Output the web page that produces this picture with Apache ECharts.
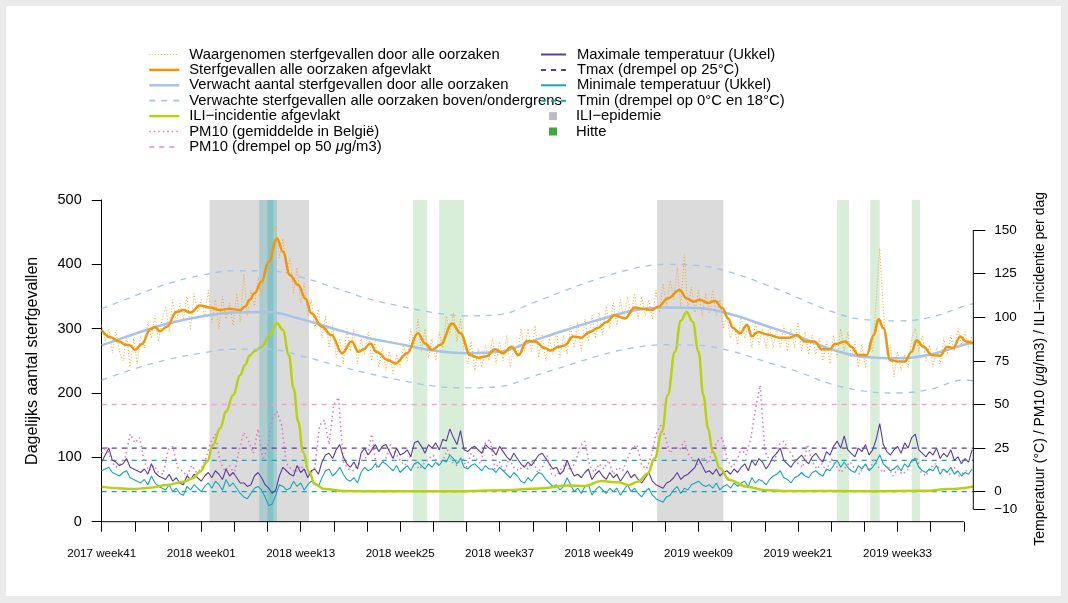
<!DOCTYPE html>
<html><head><meta charset="utf-8">
<script src="https://cdn.jsdelivr.net/npm/echarts@6/dist/echarts.min.js"></script>
<style>html,body{margin:0;padding:0;background:#ebebeb}#c{width:1068px;height:603px}</style>
</head><body><div id="c"></div>
<script>
// ---------------- DATA ----------------
const tickLabels = ['2017 week41','2018 week01','2018 week13','2018 week25','2018 week37','2018 week49','2019 week09','2019 week21','2019 week33'];
const dayMax = 736;            // days shown since 2017 week41 (Monday 9 Oct 2017)
const labelEvery = 84;         // 12 weeks between labels
const tickEvery = 28;          // 4 weeks between ticks

// observed daily deaths, one value every 3 days
const obsStep = 3;
const observed = [
305,280,300,262,295,265,250,290,240,285,
245,290,270,310,285,320,280,315,335,295,
345,310,340,315,350,300,355,325,345,320,
360,310,345,300,350,315,340,305,355,310,
385,320,360,335,380,350,400,385,445,460,
410,440,385,410,355,395,340,370,320,345,
300,330,285,320,270,305,255,285,245,300,
265,300,245,285,260,295,250,280,240,270,
235,265,230,260,240,275,250,300,270,315,
265,300,255,285,250,295,270,320,290,325,
280,315,265,245,280,235,270,240,275,250,
285,245,280,250,290,240,275,255,300,265,
300,265,305,255,290,250,285,260,295,255,
290,260,305,270,310,265,315,280,320,285,
325,290,335,300,340,305,345,315,350,320,
355,315,350,320,345,315,360,325,370,335,
375,345,395,335,415,330,365,325,360,320,
355,325,360,320,345,300,320,285,305,275,
320,285,305,270,310,275,300,270,305,270,
300,270,305,265,300,270,310,265,295,260,
290,260,285,250,280,245,290,255,300,265,
295,255,280,240,275,240,280,265,345,425,
330,260,275,225,265,235,260,240,285,300,
265,290,250,275,240,270,245,285,260,290,
265,300,275,295,270,290];

// smoothed deaths
const smoothDays = [0,7,15,20,24,28,34,41,45,49,55,63,69,75,83,91,100,108,117,121,125,129,135,141,148,153,159,166,172,177,186,194,203,211,217,221,227,232,242,248,258,267,273,279,286,296,303,311,318,325,332,339,346,352,359,366,374,379,386,391,398,405,412,419,426,433,442,450,457,464,470,478,488,494,500,505,512,518,524,529,533,539,545,549,554,562,573,581,587,594,602,608,615,619,628,633,639,646,652,656,660,666,673,678,684,688,694,701,708,714,719,725,730,736];
const smoothVals = [298,287,280,275,274,267,276,299,303,296,303,326,329,325,336,333,329,331,329,334,345,355,373,404,440,420,383,368,347,324,303,290,262,280,264,268,277,264,251,246,262,293,277,267,275,308,293,259,255,257,268,262,272,259,281,280,270,266,272,274,288,286,295,301,310,321,316,333,331,329,334,347,360,347,342,345,340,343,332,316,301,293,306,288,295,291,286,286,290,280,280,268,268,276,280,272,259,259,290,315,301,251,249,249,264,282,272,259,258,272,270,288,280,277];

// expected deaths and bounds
const expDays  = [0,28,56,84,112,140,168,196,224,252,280,308,336,364,392,420,448,476,504,532,560,588,616,644,672,700,728,736];
const expected = [274,292,308,319,325,326,315,300,286,276,266,262,264,281,298,314,328,333,332,322,305,288,268,256,254,260,275,278];
const expUpper = [331,351,370,383,390,390,380,364,347,335,325,320,322,340,360,378,393,400,398,387,369,348,327,314,312,318,335,339];
const expLower = [220,238,252,262,268,268,258,244,231,220,211,208,210,226,242,258,270,275,274,265,249,233,214,203,200,206,220,219];

// ILI incidence (smoothed)
const iliDays = [0,14,27,41,55,69,77,83,89,94,100,105,111,117,121,125,129,135,142,148,153,158,162,166,170,175,180,188,205,250,300,340,370,394,408,422,436,445,453,461,467,473,478,484,489,494,499,504,508,512,516,522,530,545,559,580,650,695,715,736];
const iliVals = [2.9,2.0,1.5,2.3,3.8,5.7,7.7,11.5,17.2,26.8,36.3,45.9,55.4,66.9,72.6,78,80.5,83.1,89.8,96.5,92.7,78.4,59.3,40.1,22.9,11.5,4.2,1.5,0.4,0.2,0.3,0.8,1.9,3.5,3.3,6.1,5.4,3.8,5.7,10.5,19.1,34.4,55.4,80.2,98,103,97.4,80.2,55.4,36.3,22.9,13.4,6.7,2.9,1.0,0.4,0.3,0.5,1.5,3.0];

// PM10, one value every 4 days
const pmStep = 4;
const pm10 = [
22,26,18,14,16,20,33,28,31,17,
12,15,11,10,24,26,14,12,9,15,
11,13,19,28,33,17,12,15,10,24,
34,29,22,36,18,25,42,46,38,16,
13,11,15,12,10,14,38,41,27,50,
54,17,13,12,15,18,20,33,14,16,
19,27,22,18,15,20,17,13,16,19,
21,16,18,24,17,15,20,14,22,19,
16,28,30,13,17,11,19,14,12,15,
13,18,11,14,21,10,9,13,16,12,
17,26,29,15,11,16,13,18,10,14,
12,19,25,27,15,13,20,33,38,31,
22,26,24,29,21,18,15,20,16,24,
29,31,19,14,17,25,21,30,47,61,
23,18,17,27,29,24,20,16,14,27,
17,13,16,12,19,15,11,14,17,13,
10,16,12,18,14,11,15,9,13,10,
12,17,20,11,9,14,16,13,12,10,
14,9,11,13];

// temperatures (Ukkel), one value every 3 days
const tStep = 3;
const tmax = [
17,21,25,18,17,15,16,19,14,13,
12,11,13,10,16,11,9,8,7,10,
6,8,5,4,9,7,10,8,6,9,
11,8,12,10,7,13,9,11,8,5,
5,3,4,9,11,8,4,2,-1,1,
9,14,12,10,9,15,11,13,8,12,
13,10,17,21,22,19,24,27,20,16,
14,17,13,22,25,21,24,27,23,26,
27,23,19,25,21,22,24,20,28,29,
26,22,27,25,28,24,30,29,36,31,
27,35,24,23,25,26,24,22,27,25,
24,21,26,23,20,18,22,19,16,14,
17,15,18,21,22,19,16,13,14,10,
12,18,13,9,10,8,11,13,7,10,
12,9,7,11,8,10,6,9,12,8,
10,7,5,8,11,6,4,3,2,5,
6,8,11,7,9,10,12,14,19,15,
11,12,10,13,9,11,12,10,13,11,
14,16,12,18,15,19,17,13,16,20,
22,25,18,16,14,17,19,21,18,16,
20,22,19,17,23,21,26,29,25,32,
24,22,20,25,23,27,21,24,30,39,
27,23,21,24,26,22,28,25,31,33,
24,22,20,23,21,25,19,22,20,24,
18,20,16,19,17,24];
const tmin = [
12,13,14,11,10,9,11,12,8,7,
6,5,7,4,9,5,3,2,1,4,
0,2,-1,-2,3,1,4,2,0,3,
5,2,6,4,1,7,3,5,2,-1,
-3,-4,-1,2,3,1,-3,-8,-7,-2,
4,3,1,2,6,3,5,1,4,6,
5,3,8,12,13,9,11,14,10,7,
6,8,5,11,14,12,13,16,14,17,
16,14,12,15,11,13,15,12,16,17,
15,13,16,14,17,15,18,17,21,19,
16,19,14,13,15,16,14,12,15,13,
13,11,14,12,10,8,11,9,6,5,
8,6,9,11,10,7,5,3,4,1,
3,8,4,0,2,-1,3,4,-2,1,
3,1,-1,2,0,2,-2,1,4,0,
2,-1,-3,0,2,-2,-4,-5,-6,-3,
-2,1,3,-1,2,1,4,5,6,4,
3,4,2,5,1,3,4,2,5,3,
5,6,3,8,5,7,6,4,7,9,
10,12,8,7,5,8,9,11,9,8,
11,12,10,9,13,12,15,18,14,17,
14,12,11,15,13,16,12,14,17,21,
16,14,12,13,15,12,16,14,18,19,
14,12,11,13,12,15,10,13,11,14,
10,12,9,11,10,13];

const pmThreshold = 50;
const tmaxThreshold = 25;
const tminThresholds = [0, 18];
const rightTicks = [-10, 0, 25, 50, 75, 100, 125, 150];
const iliEpidemics = [[91,175],[469,525]];
const heatWaves = [[263,275],[285,306],[621,631],[649,657],[684,691]];
const coldWaves = [[133,148],[140,145]];

// ---------------- CHART ----------------
const FONT = '"Liberation Sans", Arial, Helvetica, sans-serif';
const C = {obs:'#f5a630', smooth:'#ef9609', exp:'#a8c3ea', ili:'#b8d20c', pm:'#e07cc0', pmT:'#f0a6cc',
  tmax:'#5a3e9a', tmin:'#17a6b8', iliLeg:'#bebebe', heatLeg:'#3aab3a'};
const step = (arr, s) => arr.map((v, i) => [i * s, v]);
const pairs = (d, v) => d.map((x, i) => [x, v[i]]);
const hline = v => [[0, v], [dayMax, v]];
const base = {type:'line', showSymbol:false, symbol:'none', silent:true, animation:false};
const L = (o) => Object.assign({}, base, o);

const xTickVals = []; for (let d = 0; d <= dayMax; d += tickEvery) xTickVals.push(d);
const xLabelVals = tickLabels.map((_, i) => i * labelEvery);

const series = [
  L({name:'ILI−epidemie', data:[], color:C.iliLeg, z:1,
     markArea:{silent:true, itemStyle:{color:'rgba(190,190,190,0.55)'}, data: iliEpidemics.map(([a,b]) => [{xAxis:a},{xAxis:b}])}}),
  L({name:'Hitte', data:[], color:C.heatLeg, z:1,
     markArea:{silent:true, itemStyle:{color:'rgba(60,170,60,0.2)'}, data: heatWaves.map(([a,b]) => [{xAxis:a},{xAxis:b}])}}),
  L({name:'koude', data:[], color:'#1aa', z:1,
     markArea:{silent:true, itemStyle:{color:'rgba(0,155,165,0.22)'}, data: coldWaves.map(([a,b]) => [{xAxis:a},{xAxis:b}])}}),
  // thresholds
  L({name:'PM10 (drempel op 50 μg/m3)', yAxisIndex:1, data:hline(pmThreshold), color:C.pmT, lineStyle:{width:1.5, type:[5,5]}}),
  L({name:'Tmax (drempel op 25°C)', yAxisIndex:1, data:hline(tmaxThreshold), color:C.tmax, lineStyle:{width:1.3, type:[5,5]}}),
  L({name:'Tmin (drempel op 0°C en 18°C)', yAxisIndex:1, data:hline(tminThresholds[0]), color:C.tmin, lineStyle:{width:1.3, type:[5,5]}}),
  L({name:'Tmin (drempel op 0°C en 18°C)', yAxisIndex:1, data:hline(tminThresholds[1]), color:C.tmin, lineStyle:{width:1.3, type:[5,5]}}),
  // temperatures and PM10
  L({name:'PM10 (gemiddelde in België)', yAxisIndex:1, data:step(pm10, pmStep), color:C.pm, lineStyle:{width:1.6, type:[1.5,3]}}),
  L({name:'Maximale temperatuur (Ukkel)', yAxisIndex:1, data:step(tmax, tStep), color:C.tmax, lineStyle:{width:1.1}}),
  L({name:'Minimale temperatuur (Ukkel)', yAxisIndex:1, data:step(tmin, tStep), color:C.tmin, lineStyle:{width:1.1}}),
  L({name:'ILI−incidentie afgevlakt', yAxisIndex:1, data:pairs(iliDays, iliVals), color:C.ili, smooth:0.4, smoothMonotone:'x', lineStyle:{width:2.5}}),
  // deaths
  L({name:'Verwachte sterfgevallen alle oorzaken boven/ondergrens', data:pairs(expDays, expUpper), color:C.exp, smooth:0.4, lineStyle:{width:1.3, type:[6,6]}}),
  L({name:'Verwachte sterfgevallen alle oorzaken boven/ondergrens', data:pairs(expDays, expLower), color:C.exp, smooth:0.4, lineStyle:{width:1.3, type:[6,6]}}),
  L({name:'Waargenomen sterfgevallen door alle oorzaken', data:step(observed, obsStep), color:C.obs, lineStyle:{width:1, type:[1,2]}}),
  L({name:'Verwacht aantal sterfgevallen door alle oorzaken', data:pairs(expDays, expected), color:C.exp, smooth:0.4, lineStyle:{width:2.5}}),
  L({name:'Sterfgevallen alle oorzaken afgevlakt', data:pairs(smoothDays, smoothVals), color:C.smooth, smooth:0.4, smoothMonotone:'x', lineStyle:{width:2.5}}),
  // axis lines drawn to R-style extents
  L({name:'_xaxis', data:[[0,0],[xTickVals[xTickVals.length-1],0]], color:'#000', lineStyle:{width:1}, clip:false, z:5}),
  L({name:'_raxis', yAxisIndex:1, data:[[dayMax, rightTicks[0]],[dayMax, rightTicks[rightTicks.length-1]]], color:'#000', lineStyle:{width:1}, clip:false, z:5})
];

const LEGFS = 14.8;
const legText = (pad) => ({fontSize:LEGFS, lineHeight:15.4, color:'#000', fontFamily:FONT, padding:[0,0,0,pad],
  rich:{i:{fontStyle:'italic', fontSize:LEGFS, fontFamily:FONT, color:'#000'}}});
const fmt = n => n.replace('μ', '{i|μ}');
const legTop = 46.8, rowH = 15.4;
const noSymbol = {color:'rgba(0,0,0,0)', borderColor:'rgba(0,0,0,0)', borderWidth:0};

const option = {
  backgroundColor:'#ebebeb',
  animation:false,
  graphic:[{type:'rect', shape:{x:6, y:6, width:1055, height:590}, style:{fill:'#ffffff'}, z:-10, silent:true}],
  grid:{left:101.7, right:94.7, top:200, bottom:81.3, containLabel:false, outerBoundsMode:'none'},
  legend:[
    {orient:'vertical', left:148, top:legTop, padding:0, itemGap:0, itemWidth:30, itemHeight:14, selectedMode:false,
     itemStyle:noSymbol, textStyle:legText(5), formatter:fmt,
     data:[
      {name:'Waargenomen sterfgevallen door alle oorzaken', lineStyle:{width:1}},
      {name:'Sterfgevallen alle oorzaken afgevlakt', lineStyle:{width:2.5}},
      {name:'Verwacht aantal sterfgevallen door alle oorzaken', lineStyle:{width:2.5}},
      {name:'Verwachte sterfgevallen alle oorzaken boven/ondergrens', lineStyle:{width:1.8}},
      {name:'ILI−incidentie afgevlakt', lineStyle:{width:2.5}},
      {name:'PM10 (gemiddelde in België)', lineStyle:{width:1.6}},
      {name:'PM10 (drempel op 50 μg/m3)', lineStyle:{width:2}}
     ]},
    {orient:'vertical', left:540, top:legTop, padding:0, itemGap:0, itemWidth:25, itemHeight:14, selectedMode:false,
     itemStyle:noSymbol, textStyle:legText(6), formatter:fmt,
     data:[
      {name:'Maximale temperatuur (Ukkel)', lineStyle:{width:2}},
      {name:'Tmax (drempel op 25°C)', lineStyle:{width:2}},
      {name:'Minimale temperatuur (Ukkel)', lineStyle:{width:2}},
      {name:'Tmin (drempel op 0°C en 18°C)', lineStyle:{width:2}}
     ]},
    {orient:'vertical', left:549, top:legTop + 4*rowH, padding:0, itemGap:0, itemWidth:8, itemHeight:8, selectedMode:false,
     textStyle:legText(14), formatter:fmt,
     data:[{name:'ILI−epidemie', icon:'rect'}, {name:'Hitte', icon:'rect'}]}
  ],
  xAxis:{type:'value', min:0, max:dayMax, splitLine:{show:false},
    axisLine:{show:false},
    axisTick:{show:true, length:10, customValues:xTickVals, lineStyle:{color:'#000', width:1}},
    axisLabel:{customValues:xLabelVals, margin:26, fontSize:11.6, color:'#000', fontFamily:FONT,
      formatter:v => tickLabels[Math.round(v / labelEvery)] || ''}},
  yAxis:[
    {type:'value', min:0, max:500, interval:100, splitLine:{show:false},
     axisLine:{show:true, lineStyle:{color:'#000', width:1}},
     axisTick:{show:true, length:10, lineStyle:{color:'#000'}},
     axisLabel:{fontSize:14.5, color:'#000', margin:20, fontFamily:FONT},
     name:'Dagelijks aantal sterfgevallen', nameLocation:'middle', nameGap:61,
     nameTextStyle:{fontSize:16, color:'#000', fontFamily:FONT}},
    {type:'value', min:-17.2, max:167.2, position:'right', splitLine:{show:false},
     axisLine:{show:false},
     axisTick:{show:true, length:12, customValues:rightTicks, lineStyle:{color:'#000'}},
     axisLabel:{customValues:rightTicks, fontSize:13.5, color:'#000', margin:21, fontFamily:FONT,
       formatter:v => v < 0 ? '\u2212' + Math.abs(v) : String(v)},
     name:'Temperatuur (°C) / PM10 ({i|μ}g/m3) / ILI−incidentie per dag', nameLocation:'middle', nameGap:60,
     nameTextStyle:{fontSize:14, color:'#000', fontFamily:FONT, padding:[0,16,0,0],
       rich:{i:{fontStyle:'italic', fontSize:14, fontFamily:FONT, color:'#000'}}}}
  ],
  series:series
};
const chart = echarts.init(document.getElementById('c'), null, {renderer:'canvas'});
chart.setOption(option);
</script></body></html>
